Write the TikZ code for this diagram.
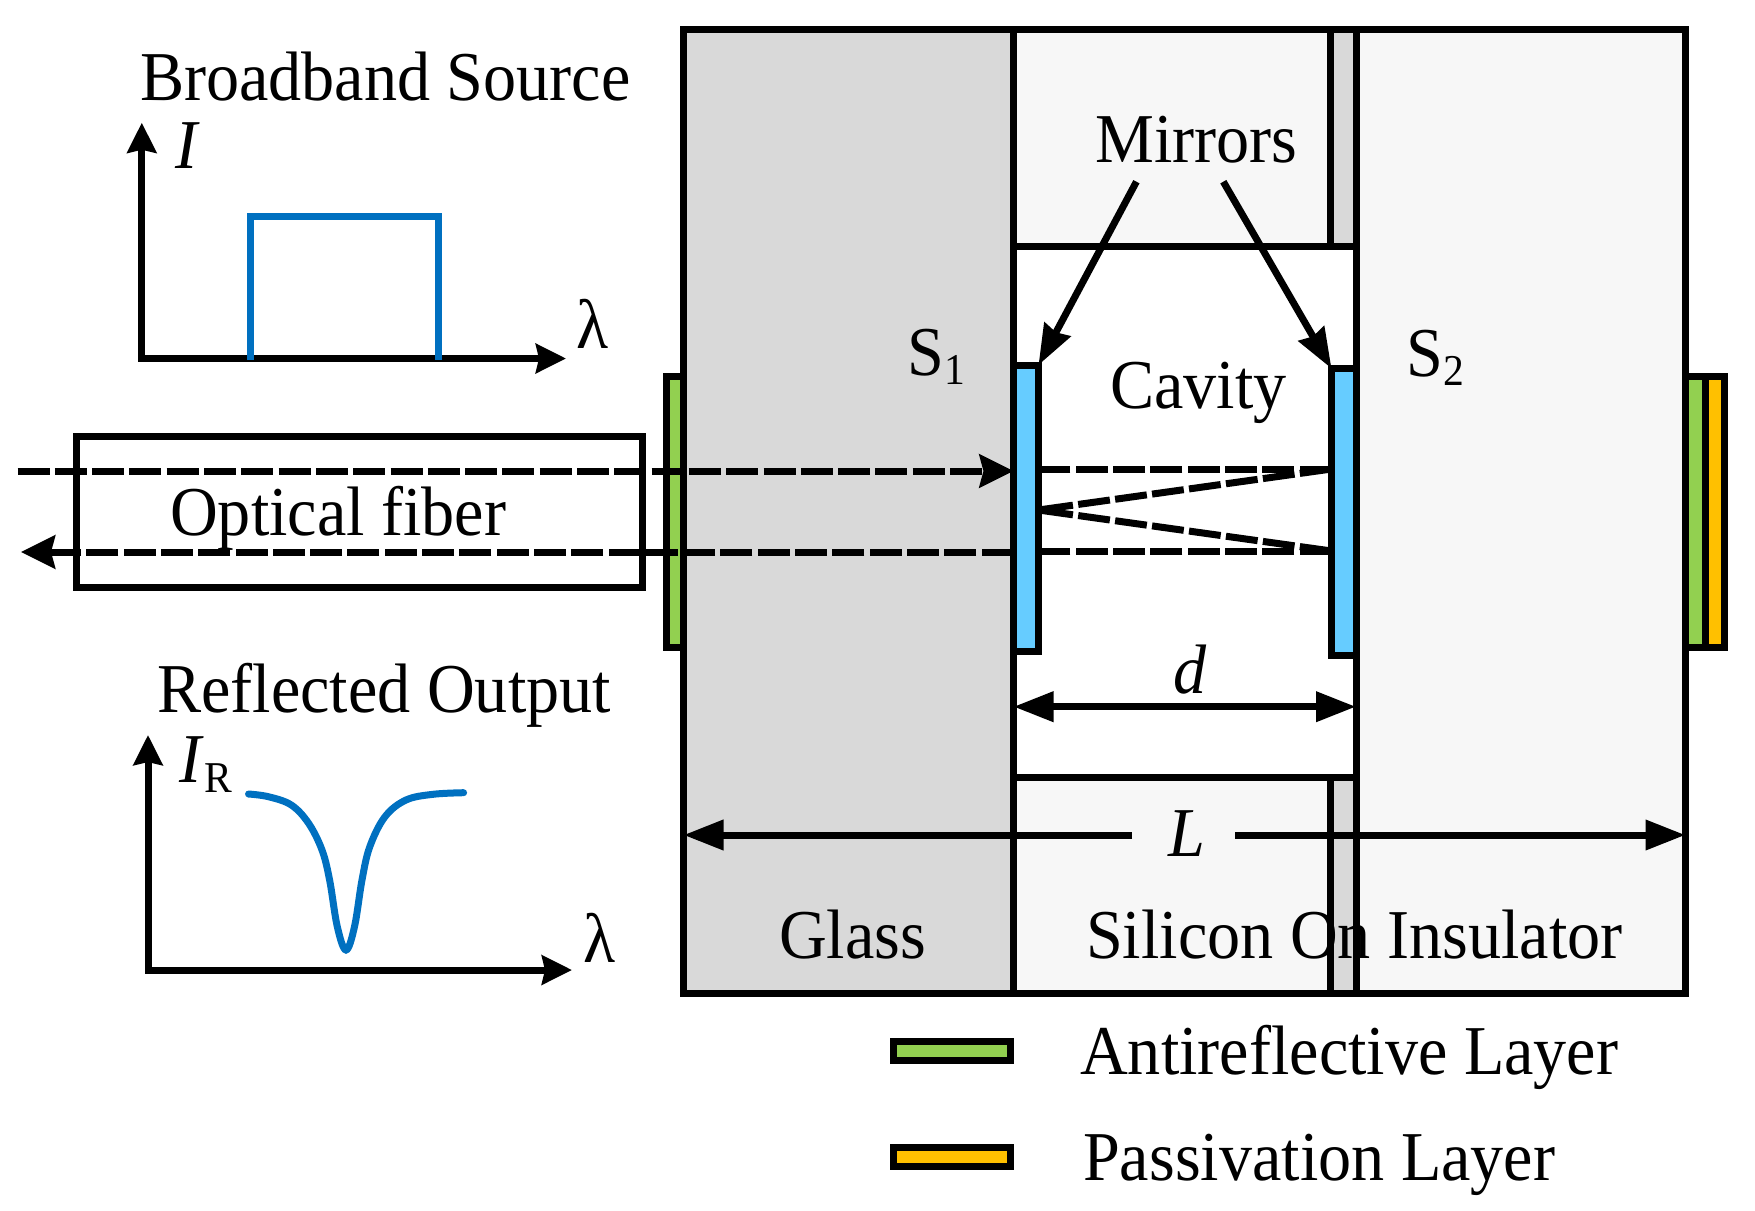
\documentclass[tikz,border=0pt]{standalone}
\usepackage{fontspec}
\setmainfont[FakeStretch=0.945]{Liberation Serif}
\usetikzlibrary{arrows.meta}
\definecolor{glassgray}{HTML}{D9D9D9}
\definecolor{soigray}{HTML}{F7F7F7}
\definecolor{argreen}{HTML}{92D050}
\definecolor{passorange}{HTML}{FFC000}
\definecolor{mirrorblue}{HTML}{66CCFF}
\definecolor{specblue}{HTML}{0070C0}
\newcommand{\subnum}[1]{\raisebox{-9pt}{\fontsize{44}{44}\selectfont #1}}

\begin{document}
\begin{tikzpicture}[
    x=1pt, y=-1pt,
    layer/.style={rectangle, draw, line width=7pt, inner sep=0pt, outer sep=0pt},
    lbl/.style={anchor=base west, inner sep=0pt, font=\fontsize{70}{84}\selectfont},
    axis/.style={{Stealth[length=30pt,width=29pt,inset=3pt]}-{Stealth[length=30pt,width=29pt,inset=3pt]}, line width=7pt},
    spec/.style={specblue, line width=7pt},
    ray/.style={line width=7pt, dash pattern=on 32pt off 5.3pt},
    rayend/.style={ray, -{Stealth[length=34pt,width=33pt,inset=4pt]}},
    pointer/.style={-{Stealth[length=40pt,width=29pt,inset=3pt]}, line width=7pt},
    span/.style={-{Stealth[length=40pt,width=29pt,inset=0pt]}, line width=7pt}
]
    \useasboundingbox (0,0) rectangle (1755,1210);

    \node[layer, fill=argreen, minimum width=17.5pt, minimum height=271pt] (arleft) at (674.75,512) {};
    \node[layer, fill=argreen, minimum width=19.5pt, minimum height=271pt] (arright) at (1695.25,512) {};
    \node[layer, fill=passorange, minimum width=19.5pt, minimum height=271pt] (passright) at (1714.75,512) {};

    \node[layer, fill=glassgray, minimum width=330pt, minimum height=964.2pt] (glass) at (848.5,511.6) {};
    \node[layer, fill=soigray, minimum width=342.5pt, minimum height=964.2pt] (soimid) at (1184.75,511.6) {};
    \node[layer, fill=soigray, minimum width=329.5pt, minimum height=964.2pt] (soiright) at (1520.75,511.6) {};
    \node[layer, fill=glassgray, minimum width=25.5pt, minimum height=216.5pt] (striptop) at (1343.25,137.75) {};
    \node[layer, fill=glassgray, minimum width=25.5pt, minimum height=216.3pt] (stripbot) at (1343.25,885.55) {};
    \node[layer, fill=white, minimum width=342.5pt, minimum height=531.4pt] (cavity) at (1184.75,511.7) {};

    \node[layer, fill=mirrorblue, minimum width=25pt, minimum height=286pt] (mirrorA) at (1026,508) {};
    \node[layer, fill=mirrorblue, minimum width=25pt, minimum height=286.5pt] (mirrorB) at (1344,511.75) {};

    \node[layer, minimum width=566pt, minimum height=151pt] (fiber) at (359,512) {};

    \node[layer, fill=argreen, minimum width=117.5pt, minimum height=18.8pt] (legendA) at (951.75,1051.1) {};
    \node[layer, fill=passorange, minimum width=117.5pt, minimum height=19pt] (legendB) at (951.75,1157) {};

    \node[lbl] (source) at (140,100) {Broadband Source};
    \node[lbl] (output) at (157,712) {Reflected Output};
    \node[lbl] (mirrors) at (1095,162) {Mirrors};
    \node[lbl] (cavitytxt) at (1110,408) {Cavity};
    \node[lbl] (sone) at (907,375) {S\subnum{1}};
    \node[lbl] (stwo) at (1406,376) {S\subnum{2}};
    \node[lbl] (fibertxt) at (170,535) {Optical fiber};
    \node[lbl] (glasstxt) at (779,958) {Glass};
    \node[lbl] (soitxt) at (1086,958) {Silicon On Insulator};
    \node[lbl] (legtxtA) at (1080,1074) {Antireflective Layer};
    \node[lbl] (legtxtB) at (1083,1180) {Passivation Layer};
    \node[lbl] (dtxt) at (1173,693) {\textit{d}};
    \node[lbl] (Ltxt) at (1168,856) {\textit{L}};
    \node[lbl] (Ilabel) at (175,168) {\textit{I}};
    \node[lbl] (IRlabel) at (179,782) {\textit{I}};
    \node[lbl, font=\fontsize{44}{44}\selectfont] (Rlabel) at (204,792) {R};
    \node[lbl] (lamA) at (576,348) {λ};
    \node[lbl] (lamB) at (583,962) {λ};

    \coordinate (axAtop) at (141.8,122.7);
    \coordinate (axAend) at (566,358.5);
    \coordinate (axBtop) at (148,735);
    \coordinate (axBend) at (572,970);
    \draw[axis] (axAtop) |- (axAend);
    \draw[axis] (axBtop) |- (axBend);

    \draw[spec] (250,360) |- (438.5,216) -- (438.5,360);
    \draw[spec, line cap=round] plot[smooth, tension=0.6] coordinates {
        (248.5,794) (268.4,796.7) (291.3,805) (308.6,823.3) (322,850) (329.6,880) (337.3,926.7)
        (346,950)
        (354.5,926.7) (362,880) (369.8,846.7) (385,816.7) (406,800) (433,794.3) (463.6,792.7)};

    \coordinate (rayin) at (17.5,471);
    \coordinate (rayout) at (21,552);
    \coordinate (upper) at (0,469);
    \coordinate (lower) at (0,551);
    \coordinate (focus) at (0,510);
    \draw[rayend] (rayin) -- (rayin -| mirrorA.west);
    \draw[rayend] (rayout -| mirrorA.west) -- (rayout);
    \draw[ray] (upper -| mirrorB.west) -- (upper -| mirrorA.east);
    \draw[ray] (upper -| mirrorB.west) -- (focus -| mirrorA.east);
    \draw[ray] (lower -| mirrorB.west) -- (focus -| mirrorA.east);
    \draw[ray] (lower -| mirrorB.west) -- (lower -| mirrorA.east);

    \coordinate (mirstartA) at (1136.4,181.7);
    \coordinate (mirstartB) at (1223.3,181.7);
    \draw[pointer] (mirstartA) -- (mirrorA.north east);
    \draw[pointer] (mirstartB) -- (mirrorB.north west);

    \coordinate (dmid) at (1185,706.7);
    \draw[span] (dmid) -- (dmid -| cavity.west);
    \draw[span] (dmid) -- (dmid -| cavity.east);

    \coordinate (Lleft) at (1132,835);
    \coordinate (Lright) at (1235,835);
    \draw[span] (Lleft) -- (Lleft -| glass.west);
    \draw[span] (Lright) -- (Lright -| soiright.east);
\end{tikzpicture}
\end{document}
